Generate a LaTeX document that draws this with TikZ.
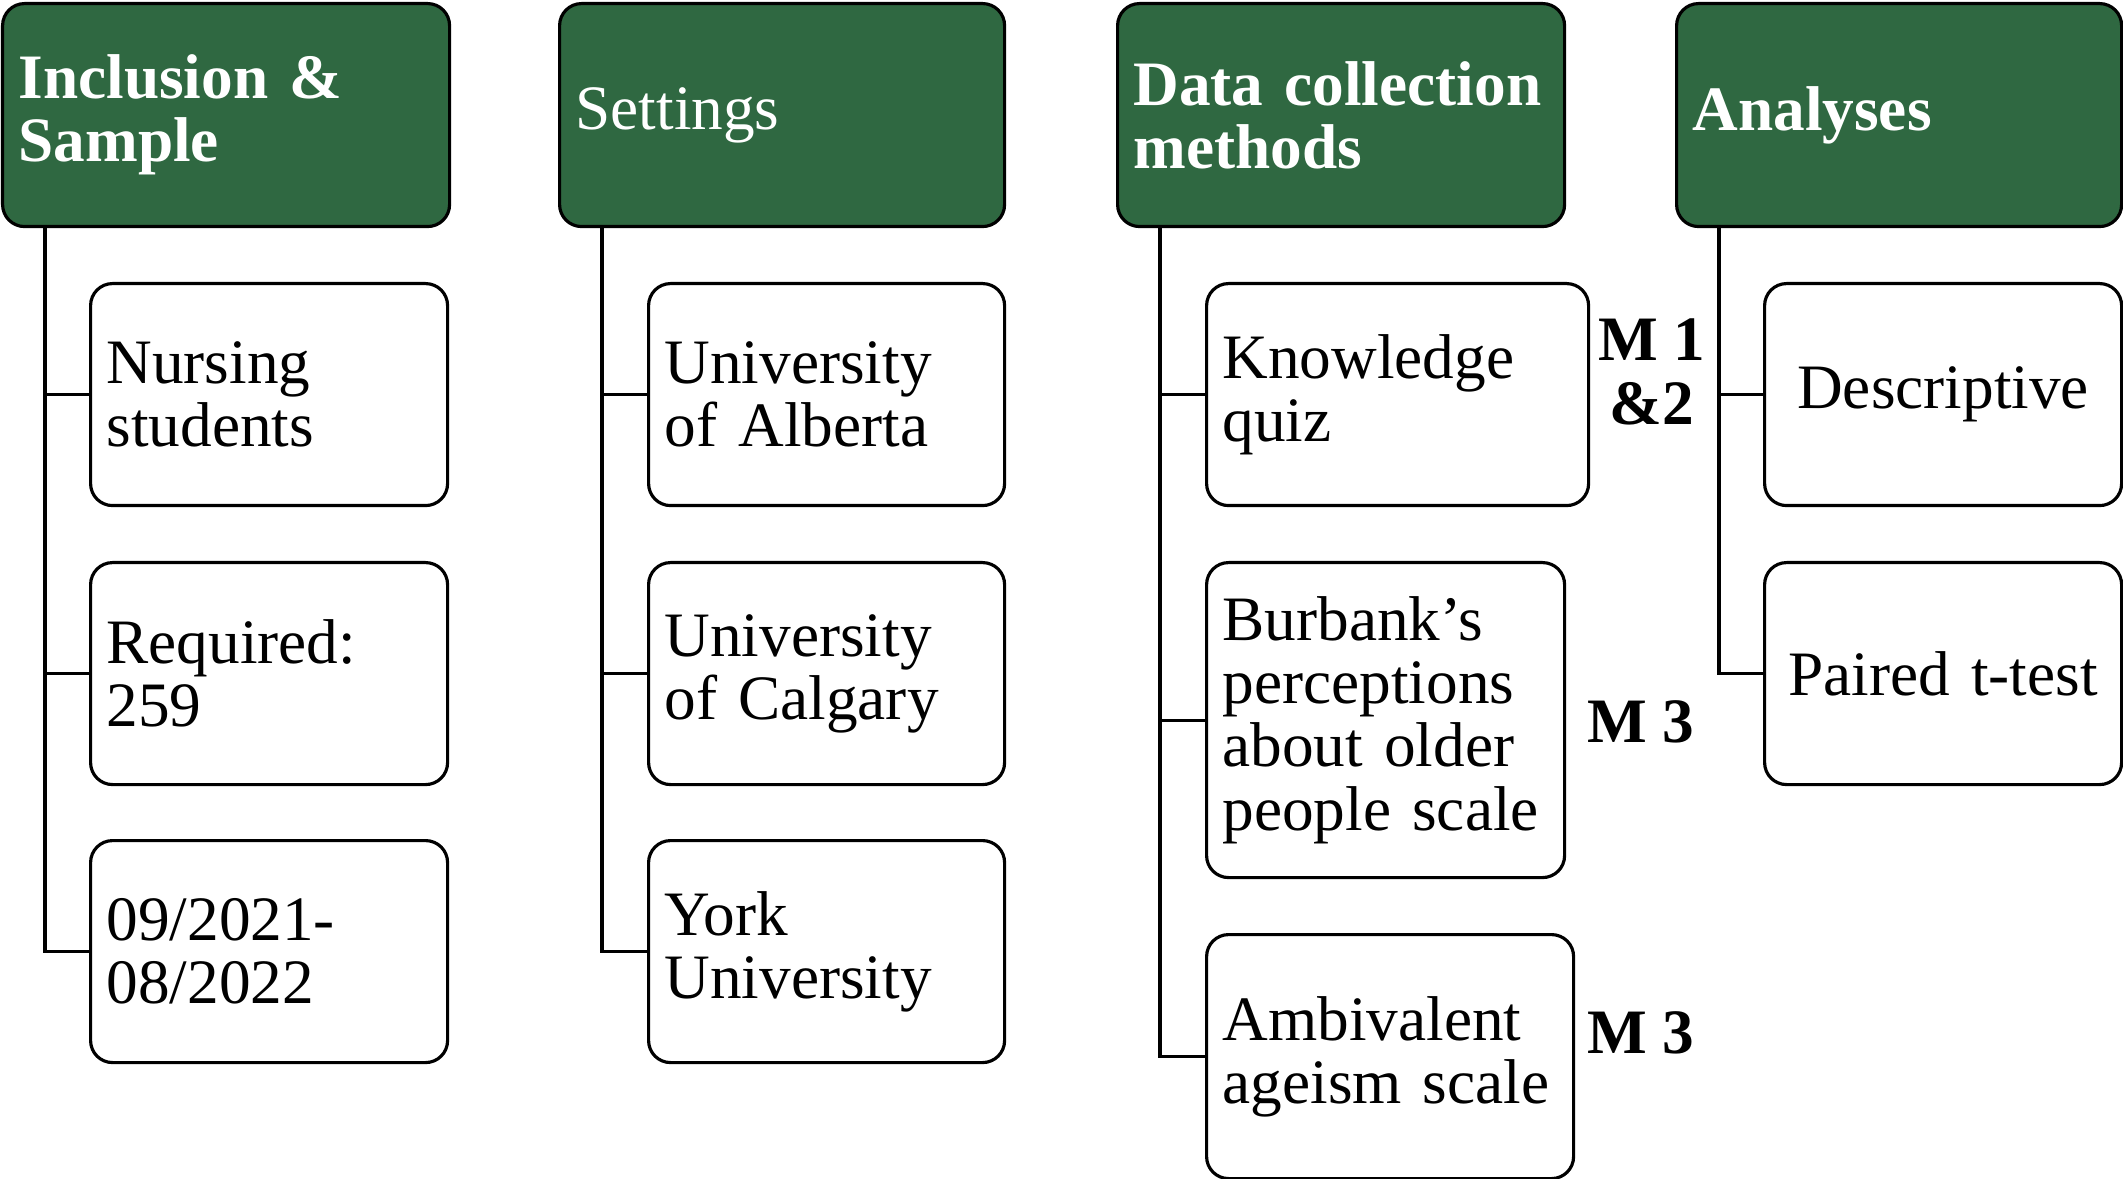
\documentclass[tikz,border=0pt]{standalone}
\usepackage{fontspec}
\setmainfont{Liberation Serif}
\definecolor{headgreen}{RGB}{47,104,65}
\begin{document}
\begin{tikzpicture}
\tikzstyle{header}=[draw, rectangle, rounded corners=0.22cm, line width=0.9pt, fill=headgreen, text=white, anchor=north west, minimum height=2.23cm, inner sep=0.16cm, align=left, font=\fontsize{18}{18}\selectfont\bfseries]
\tikzstyle{leaf}=[draw, rectangle, rounded corners=0.22cm, line width=0.9pt, fill=white, anchor=north west, minimum height=2.22cm, inner sep=0.16cm, align=left, font=\fontsize{18}{18}\selectfont]
\tikzstyle{link}=[draw, line width=0.9pt]
\tikzstyle{measure}=[font=\fontsize{18}{18}\selectfont\bfseries, align=center]

\useasboundingbox (0,0) rectangle (21.23,-11.79);

% Headers
\node[header, text width=4.15cm] (incl) at (0.01,-0.02) {Inclusion \&\\Sample};
\node[header, text width=4.13cm, font=\fontsize{18}{18}\selectfont] (sett) at (5.58,-0.02) {Settings};
\node[header, text width=4.15cm] (data) at (11.16,-0.02) {Data collection\\methods};
\node[header, text width=4.13cm] (anal) at (16.75,-0.02) {Analyses};

% Inclusion & Sample
\node[leaf, text width=3.25cm] (nurse) at (0.89,-2.82) {Nursing\\students};
\node[leaf, text width=3.25cm] (req) at (0.89,-5.61) {Required:\\259};
\node[leaf, text width=3.25cm] (date) at (0.89,-8.39) {09/2021-\\08/2022};

% Settings
\node[leaf, text width=3.24cm] (alb) at (6.47,-2.82) {University\\of Alberta};
\node[leaf, text width=3.24cm] (cal) at (6.47,-5.61) {University\\of Calgary};
\node[leaf, text width=3.24cm] (york) at (6.47,-8.39) {York\\University};

% Data collection methods
\node[leaf, text width=3.50cm] (quiz) at (12.05,-2.82) {Knowledge\\quiz};
\node[leaf, text width=3.26cm, minimum height=3.15cm] (burb) at (12.05,-5.61) {Burbank’s\\perceptions\\about older\\people scale};
\node[leaf, text width=3.35cm, minimum height=2.44cm] (ambi) at (12.05,-9.33) {Ambivalent\\ageism scale};

% Analyses
\node[leaf, text width=3.25cm, align=center] (desc) at (17.63,-2.82) {Descriptive};
\node[leaf, text width=3.25cm, align=center] (ttest) at (17.63,-5.61) {Paired t-test};

% Measure labels
\node[measure] (m12) at (16.52,-3.72) {M 1\\\&2};
\node[measure] (m3a) at (16.41,-7.22) {M 3};
\node[measure] (m3b) at (16.41,-10.33) {M 3};

% Connectors
\draw[link] ([xshift=0.44cm]incl.south west) |- (nurse.west);
\draw[link] ([xshift=0.44cm]incl.south west) |- (req.west);
\draw[link] ([xshift=0.44cm]incl.south west) |- (date.west);
\draw[link] ([xshift=0.44cm]sett.south west) |- (alb.west);
\draw[link] ([xshift=0.44cm]sett.south west) |- (cal.west);
\draw[link] ([xshift=0.44cm]sett.south west) |- (york.west);
\draw[link] ([xshift=0.44cm]data.south west) |- (quiz.west);
\draw[link] ([xshift=0.44cm]data.south west) |- (burb.west);
\draw[link] ([xshift=0.44cm]data.south west) |- (ambi.west);
\draw[link] ([xshift=0.44cm]anal.south west) |- (desc.west);
\draw[link] ([xshift=0.44cm]anal.south west) |- (ttest.west);
\end{tikzpicture}
\end{document}
